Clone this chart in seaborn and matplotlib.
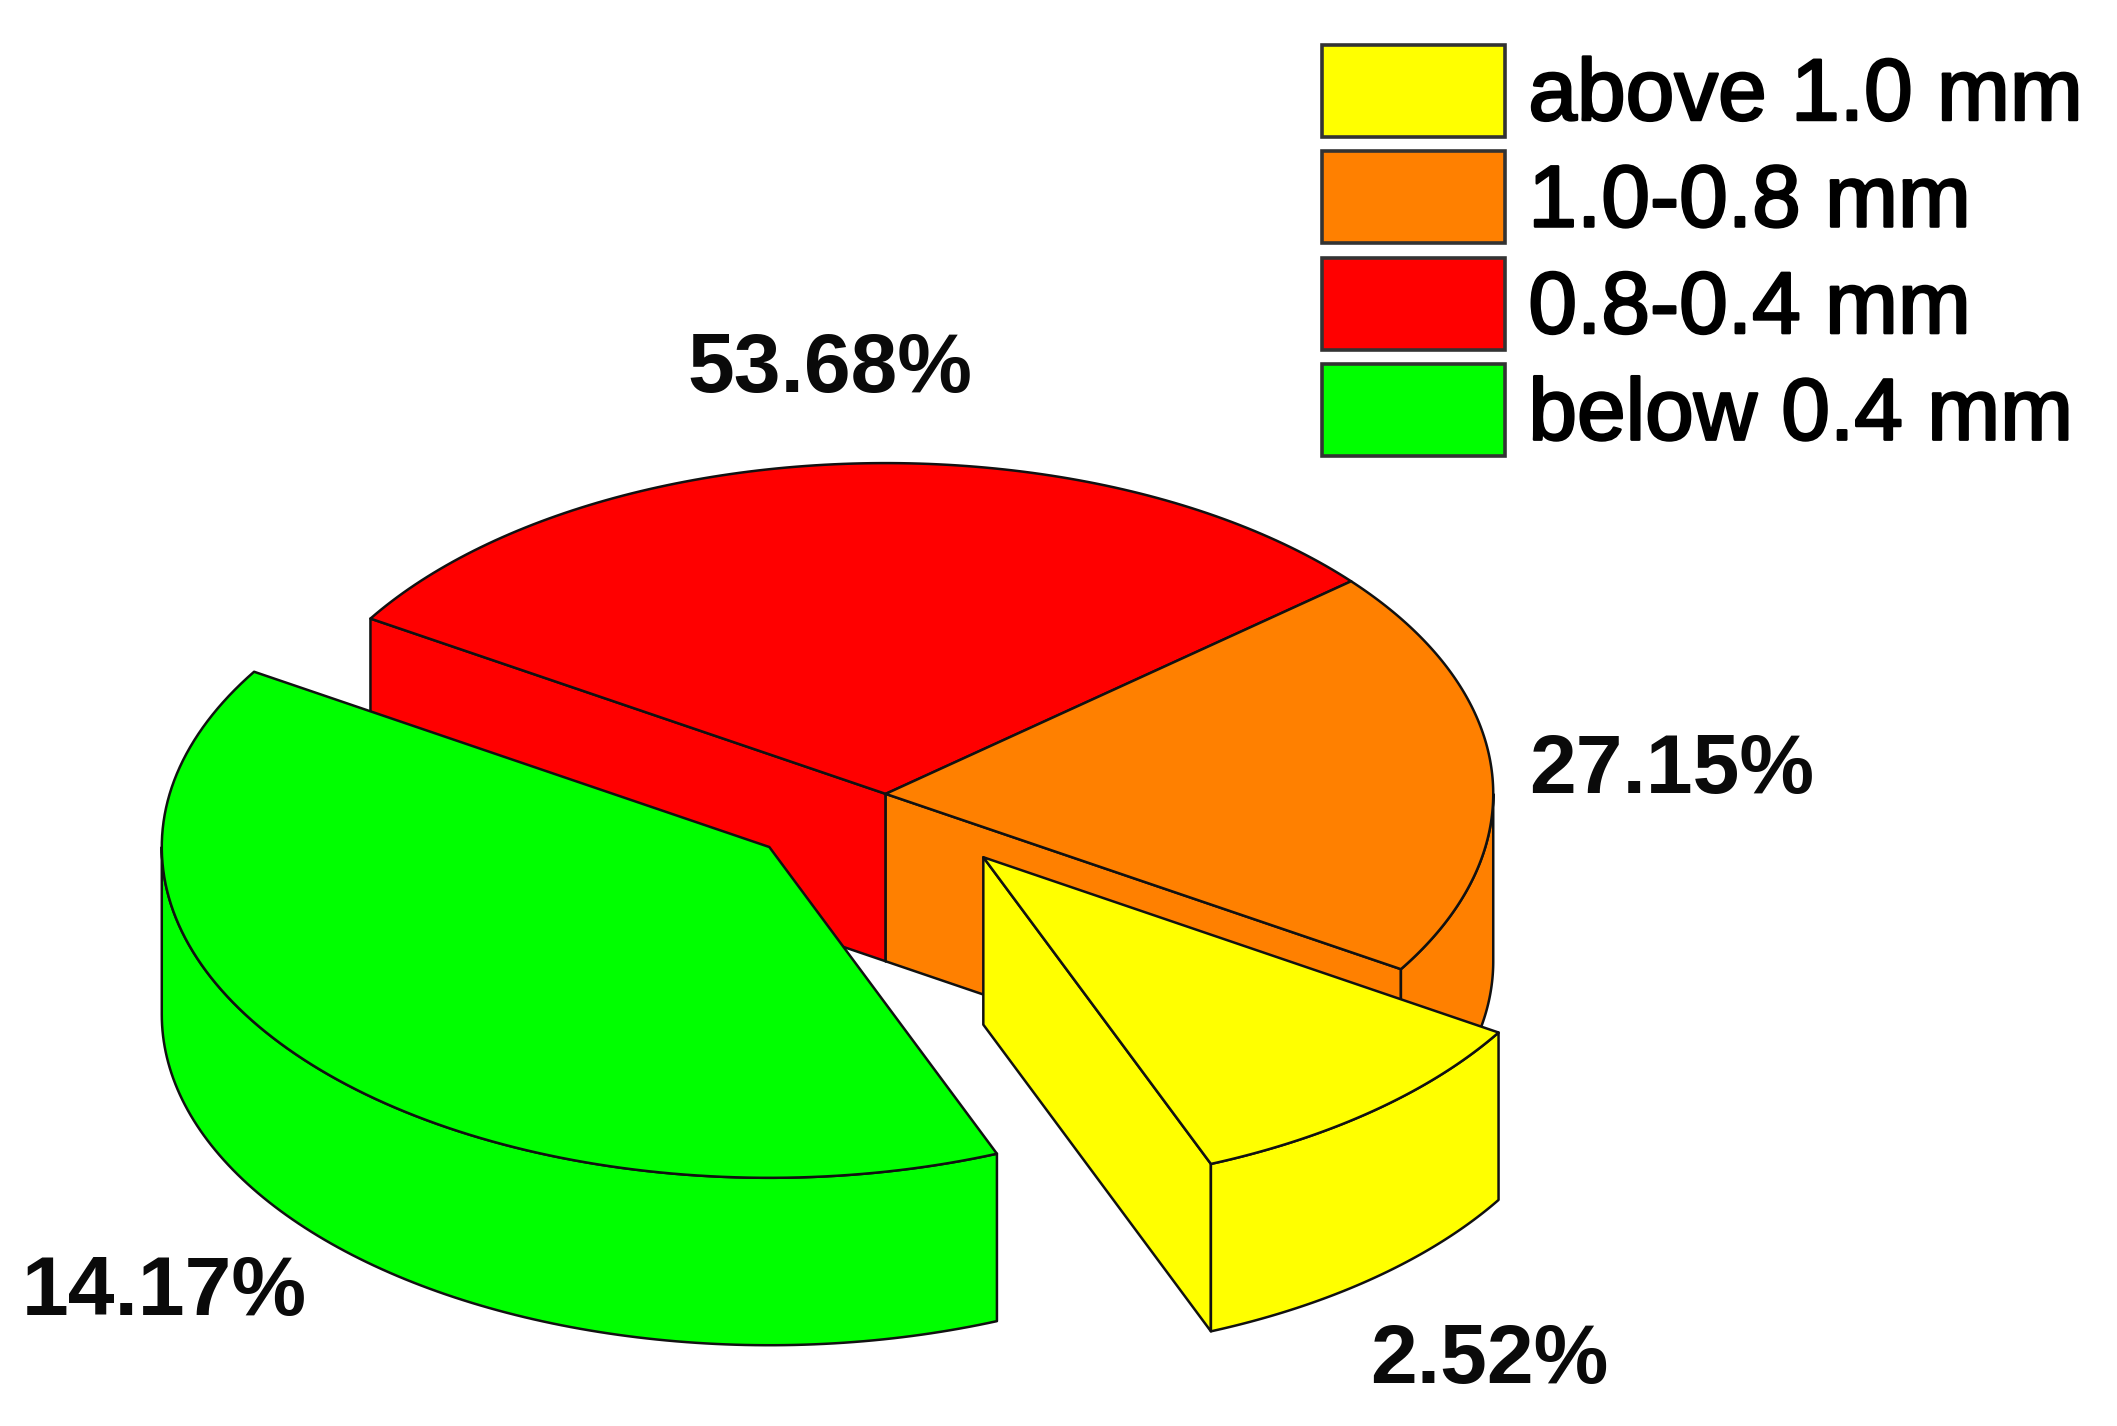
import numpy as np
import matplotlib
matplotlib.use("Agg")
import matplotlib.pyplot as plt
from matplotlib.patches import Patch
import matplotlib.patheffects as pe
import seaborn as sns

# ---- data -------------------------------------------------------------
categories = ["above 1.0 mm", "1.0-0.8 mm", "0.8-0.4 mm", "below 0.4 mm"]
percent_labels = [2.52, 27.15, 53.68, 14.17]
drawn_shares = [10, 20, 30, 40]      # sector sizes as actually drawn in the picture
explode = [0.25, 0.0, 0.0, 0.25]
colors = ["#FFFF00", "#FF8000", "#FF0000", "#00FF00"]

# ---- style / layout ----------------------------------------------------
sns.set_theme(style="white")
plt.rcParams["font.family"] = ["Liberation Sans", "DejaVu Sans"]
palette = sns.color_palette(colors)

W, H = 2117, 1426
S = W / 1568
CX, CY, RX, RY, DEPTH = 656 * S, 588 * S, 450 * S, 245 * S, 124 * S
START = -68.0
LW = 1.8

fig = plt.figure(figsize=(W / 100, H / 100), dpi=100, facecolor="white")
ax = fig.add_axes([0, 0, 1, 1])
ax.set_xlim(0, W)
ax.set_ylim(H, 0)
ax.axis("off")
sns.despine(ax=ax, left=True, bottom=True)


def rim(cx, cy, a1, a2, dz=0.0):
    t = np.radians(np.linspace(a1, a2, 121))
    return cx + RX * np.cos(t), cy - RY * np.sin(t) + dz


def face(xs, ys, color, z):
    ax.fill(xs, ys, facecolor=color, edgecolor="#111111", linewidth=LW,
            joinstyle="round", zorder=z)


def wall(cx, cy, a, color, z):
    ex = cx + RX * np.cos(np.radians(a))
    ey = cy - RY * np.sin(np.radians(a))
    face([cx, ex, ex, cx], [cy, ey, ey + DEPTH, cy + DEPTH], color, z)


sweeps = np.array(drawn_shares) / sum(drawn_shares) * 360.0
starts = START + np.concatenate([[0.0], np.cumsum(sweeps)[:-1]])
ends = starts + sweeps

z = 1
for i in [2, 1, 0, 3]:  # painter's order, back to front
    a1, a2 = starts[i], ends[i]
    mid = np.radians((a1 + a2) / 2)
    cx = CX + explode[i] * RX * np.cos(mid)
    cy = CY - explode[i] * RY * np.sin(mid)
    c = palette[i]
    # cut walls that face the viewer
    if np.sin(np.radians(a1 - 90)) < 0:
        wall(cx, cy, a1, c, z); z += 1
    if np.sin(np.radians(a2 + 90)) < 0:
        wall(cx, cy, a2, c, z); z += 1
    # outer curved wall: only the front half of the ellipse
    if a1 < 0:
        lo, hi = a1, min(a2, 0)
    else:
        lo, hi = max(a1, 180), min(a2, 360)
    if hi > lo:
        xt, yt = rim(cx, cy, lo, hi)
        xb, yb = rim(cx, cy, lo, hi, DEPTH)
        face(np.r_[xt, xb[::-1]], np.r_[yt, yb[::-1]], c, z); z += 1
    # top
    xt, yt = rim(cx, cy, a1, a2)
    face(np.r_[cx, xt], np.r_[cy, yt], c, z); z += 1

# ---- percentage labels -------------------------------------------------
label_pos = [(1103, 1008), (1238, 571), (615, 274), (122, 958)]
for v, (lx, ly) in zip(percent_labels, label_pos):
    ax.text(lx * S, ly * S, f"{v:.2f}%", ha="center", va="center", fontsize=60.5,
            fontweight="bold", color="#0a0a0a", zorder=50)

# ---- legend ------------------------------------------------------------
handles = [Patch(facecolor=c, edgecolor="#333333", linewidth=2.6) for c in palette]
fs = 63
fpx = fs * 100 / 72
leg = ax.legend(handles, categories, loc="upper left",
                bbox_to_anchor=(979 * S, 33 * S), bbox_transform=ax.transData,
                frameon=False, fontsize=fs, borderpad=0, borderaxespad=0,
                handlelength=136 * S / fpx, handleheight=1.24,
                handletextpad=17 * S / fpx, labelspacing=0.15)
for t in leg.get_texts():
    t.set_color("#000000")
    t.set_path_effects([pe.withStroke(linewidth=1.8, foreground="#000000")])

fig.savefig("out.png", dpi=100, facecolor="white")
